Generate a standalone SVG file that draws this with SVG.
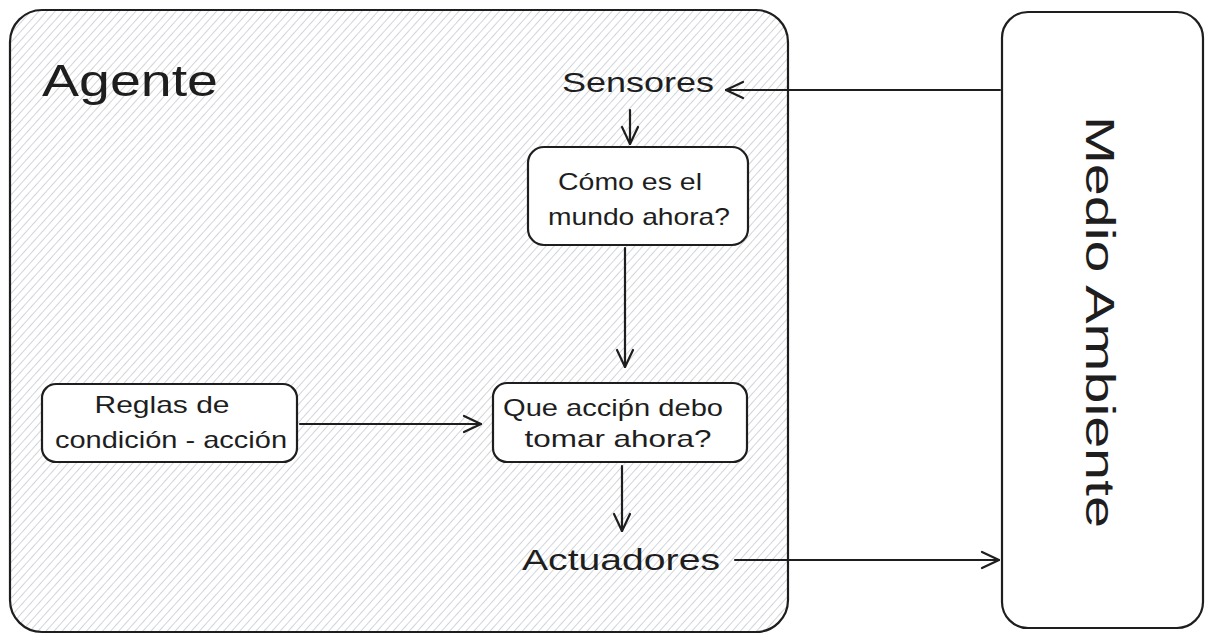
<svg xmlns="http://www.w3.org/2000/svg" width="1213" height="641" viewBox="0 0 1213 641">
<defs>
<pattern id="hatch" patternUnits="userSpaceOnUse" width="6" height="6" patternTransform="rotate(42)">
<line x1="0" y1="0" x2="0" y2="6" stroke="#bcc3cc" stroke-width="1.4"/>
</pattern>
<marker id="arr" viewBox="0 0 20 20" refX="19" refY="10" markerWidth="20" markerHeight="20" markerUnits="userSpaceOnUse" orient="auto">
<path d="M2,2 L19,10 L2,18" fill="none" stroke="#1e1e1e" stroke-width="2.2" stroke-linecap="round" stroke-linejoin="round"/>
</marker>
<style>
.box{fill:#ffffff;stroke:#1e1e1e;stroke-width:2.2}
.t{font-family:"Liberation Sans",Arial,sans-serif;fill:#1e1e1e;text-anchor:middle}
.c{fill:none;stroke:#1e1e1e;stroke-width:2.2;stroke-linecap:round;marker-end:url(#arr)}
</style>
</defs>
<rect width="1213" height="641" fill="#ffffff"/>
<g id="agente">
<rect x="10" y="10" width="778" height="622" rx="32" fill="url(#hatch)" stroke="#1e1e1e" stroke-width="2.2"/>
<text x="42" y="96" font-family="Liberation Sans, Arial, sans-serif" font-size="44" fill="#1e1e1e" textLength="176" lengthAdjust="spacingAndGlyphs">Agente</text>
</g>
<g id="medio">
<rect x="1002" y="12" width="201" height="616" rx="26" class="box"/>
<text class="t" font-size="40" transform="translate(1086,322) rotate(90)" textLength="412" lengthAdjust="spacingAndGlyphs">Medio Ambiente</text>
</g>
<g id="sensores">
<text class="t" x="638" y="92" font-size="28" textLength="152" lengthAdjust="spacingAndGlyphs">Sensores</text>
</g>
<g id="como">
<rect x="528" y="147" width="220" height="98" rx="16" class="box"/>
<text class="t" x="630" y="190" font-size="24" textLength="144" lengthAdjust="spacingAndGlyphs">Cómo es el</text>
<text class="t" x="639" y="225" font-size="24" textLength="182" lengthAdjust="spacingAndGlyphs">mundo ahora?</text>
</g>
<g id="que">
<rect x="493" y="383" width="254" height="79" rx="14" class="box"/>
<text class="t" x="613" y="416" font-size="24" textLength="220" lengthAdjust="spacingAndGlyphs">Que acciṕn debo</text>
<text class="t" x="618" y="447" font-size="24" textLength="187" lengthAdjust="spacingAndGlyphs">tomar ahora?</text>
</g>
<g id="reglas">
<rect x="42" y="384" width="255" height="78" rx="14" class="box"/>
<text class="t" x="162" y="413" font-size="24" textLength="135" lengthAdjust="spacingAndGlyphs">Reglas de</text>
<text class="t" x="171" y="448" font-size="24" textLength="232" lengthAdjust="spacingAndGlyphs">condición - acción</text>
</g>
<g id="actuadores">
<text class="t" x="621" y="570" font-size="30" textLength="198" lengthAdjust="spacingAndGlyphs">Actuadores</text>
</g>
<g id="connectors">
<line class="c" x1="1000" y1="90" x2="726" y2="90"/>
<line class="c" x1="630" y1="110" x2="630" y2="144"/>
<line class="c" x1="625" y1="248" x2="625" y2="367"/>
<line class="c" x1="300" y1="424" x2="481" y2="424"/>
<line class="c" x1="622" y1="466" x2="622" y2="531"/>
<line class="c" x1="735" y1="560" x2="999" y2="560"/>
</g>
</svg>
